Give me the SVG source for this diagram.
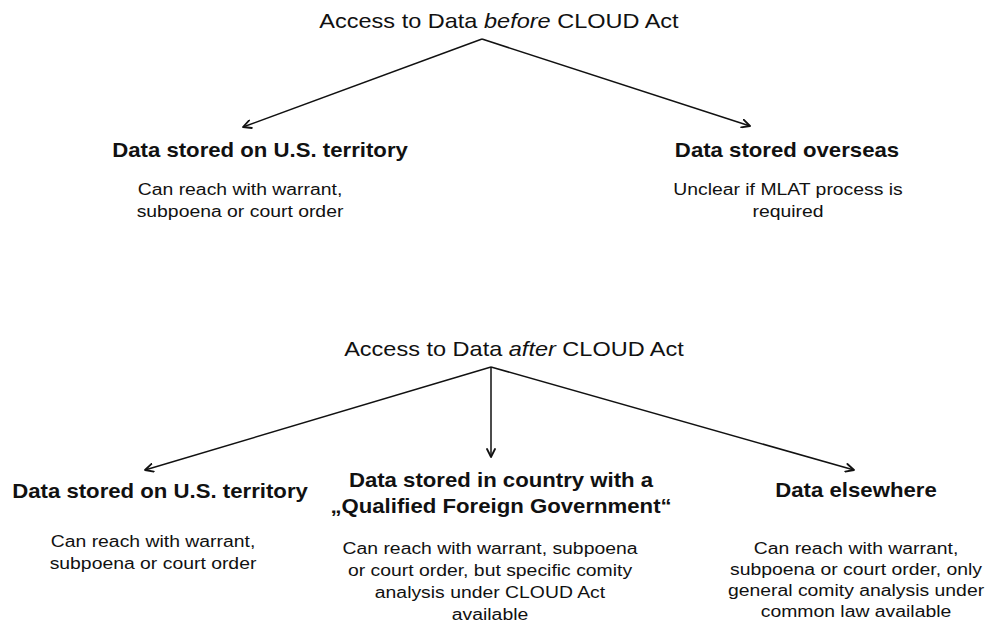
<svg xmlns="http://www.w3.org/2000/svg" width="988" height="622" viewBox="0 0 988 622">
  <defs>
    <marker id="open-arrow" viewBox="0 0 10 10" refX="9" refY="5" markerWidth="10" markerHeight="10" markerUnits="userSpaceOnUse" orient="auto">
      <path d="M1,1 L9,5 L1,9" fill="none" stroke="#111" stroke-width="1.8" stroke-linecap="round" stroke-linejoin="round"/>
    </marker>
    <style>
      text { font-family: "Liberation Sans", Arial, Helvetica, sans-serif; fill: #111; text-anchor: middle; }
      .title { font-size: 21px; }
      .head { font-size: 19.8px; font-weight: bold; }
      .body { font-size: 17.3px; }
      .conn line { stroke: #111; stroke-width: 1.5; fill: none; marker-end: url(#open-arrow); }
    </style>
  </defs>
  <rect width="988" height="622" fill="#ffffff"/>

  <!-- Before CLOUD Act -->
  <g id="before-title">
    <text class="title" transform="translate(499,28) scale(1.12,1)">Access to Data <tspan font-style="italic">before</tspan> CLOUD Act</text>
  </g>
  <g id="before-us">
    <text class="head" transform="translate(260,157) scale(1.12,1)">Data stored on U.S. territory</text>
    <text class="body" transform="translate(240,195) scale(1.12,1)">Can reach with warrant,</text>
    <text class="body" transform="translate(240,217) scale(1.12,1)">subpoena or court order</text>
  </g>
  <g id="before-overseas">
    <text class="head" transform="translate(787,157) scale(1.12,1)">Data stored overseas</text>
    <text class="body" transform="translate(788,195) scale(1.12,1)">Unclear if MLAT process is</text>
    <text class="body" transform="translate(788,217) scale(1.12,1)">required</text>
  </g>

  <!-- After CLOUD Act -->
  <g id="after-title">
    <text class="title" transform="translate(514,356) scale(1.12,1)">Access to Data <tspan font-style="italic">after</tspan> CLOUD Act</text>
  </g>
  <g id="after-us">
    <text class="head" transform="translate(160,498) scale(1.12,1)">Data stored on U.S. territory</text>
    <text class="body" transform="translate(153,547) scale(1.12,1)">Can reach with warrant,</text>
    <text class="body" transform="translate(153,569) scale(1.12,1)">subpoena or court order</text>
  </g>
  <g id="after-qfg">
    <text class="head" transform="translate(501,487) scale(1.12,1)">Data stored in country with a</text>
    <text class="head" transform="translate(501,513) scale(1.12,1)">„Qualified Foreign Government“</text>
    <text class="body" transform="translate(490,554) scale(1.12,1)">Can reach with warrant, subpoena</text>
    <text class="body" transform="translate(490,576) scale(1.12,1)">or court order, but specific comity</text>
    <text class="body" transform="translate(490,598) scale(1.12,1)">analysis under CLOUD Act</text>
    <text class="body" transform="translate(490,620) scale(1.12,1)">available</text>
  </g>
  <g id="after-elsewhere">
    <text class="head" transform="translate(856,497) scale(1.12,1)">Data elsewhere</text>
    <text class="body" transform="translate(856,554) scale(1.12,1)">Can reach with warrant,</text>
    <text class="body" transform="translate(856,575) scale(1.12,1)">subpoena or court order, only</text>
    <text class="body" transform="translate(856,596) scale(1.12,1)">general comity analysis under</text>
    <text class="body" transform="translate(856,617) scale(1.12,1)">common law available</text>
  </g>

  <!-- Connectors -->
  <g id="connectors" class="conn">
    <line x1="482" y1="39" x2="243" y2="127"/>
    <line x1="482" y1="39" x2="750" y2="126"/>
    <line x1="491" y1="367" x2="145" y2="470"/>
    <line x1="491" y1="367" x2="491" y2="457"/>
    <line x1="491" y1="367" x2="854" y2="470"/>
  </g>
</svg>
